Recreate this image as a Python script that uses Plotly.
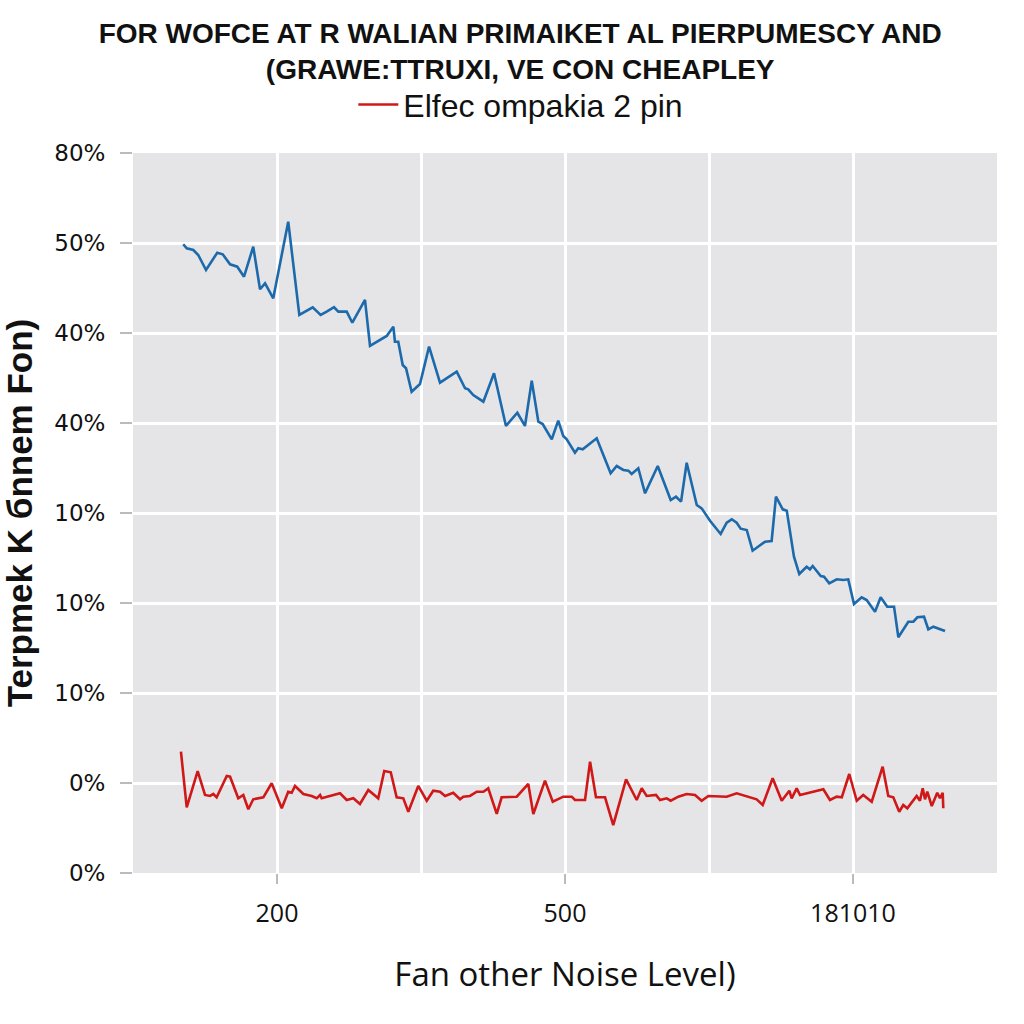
import plotly.graph_objects as go

# ---- data ----
blue_x = [0.349, 0.373, 0.419, 0.453, 0.507, 0.585, 0.623, 0.674, 0.724, 0.771,
          0.835, 0.882, 0.917, 0.974, 1.078, 1.155, 1.248, 1.303, 1.345, 1.396,
          1.426, 1.484, 1.523, 1.611, 1.646, 1.762, 1.808, 1.819, 1.842, 1.873,
          1.896, 1.935, 1.993, 2.056, 2.132, 2.248, 2.306, 2.328, 2.363, 2.433,
          2.507, 2.590, 2.669, 2.722, 2.769, 2.815, 2.845, 2.908, 2.953, 2.988,
          3.012, 3.069, 3.092, 3.123, 3.220, 3.317, 3.359, 3.405, 3.440, 3.463,
          3.509, 3.556, 3.644, 3.734, 3.771, 3.806, 3.845, 3.915, 3.949, 4.007,
          4.081, 4.123, 4.158, 4.192, 4.220, 4.262, 4.303, 4.389, 4.435, 4.465,
          4.512, 4.540, 4.590, 4.627, 4.678, 4.701, 4.720, 4.776, 4.799, 4.835,
          4.887, 4.933, 4.967, 5.007, 5.060, 5.095, 5.153, 5.192, 5.238, 5.285,
          5.315, 5.384, 5.419, 5.447, 5.493, 5.523, 5.558, 5.639]
blue_y = [6.986, 6.941, 6.922, 6.867, 6.700, 6.892, 6.874, 6.763, 6.737, 6.626,
          6.959, 6.486, 6.552, 6.386, 7.237, 6.200, 6.286, 6.200, 6.237, 6.286,
          6.237, 6.237, 6.114, 6.367, 5.856, 5.967, 6.070, 5.903, 5.903, 5.644,
          5.608, 5.348, 5.433, 5.848, 5.448, 5.570, 5.386, 5.374, 5.311, 5.237,
          5.552, 4.967, 5.114, 4.967, 5.470, 5.014, 4.989, 4.819, 5.026, 4.856,
          4.819, 4.670, 4.719, 4.708, 4.830, 4.441, 4.522, 4.478, 4.470, 4.433,
          4.497, 4.219, 4.522, 4.144, 4.181, 4.126, 4.559, 4.089, 4.052, 3.914,
          3.767, 3.892, 3.930, 3.892, 3.826, 3.811, 3.581, 3.681, 3.689, 4.181,
          4.041, 4.026, 3.514, 3.322, 3.403, 3.374, 3.411, 3.300, 3.292, 3.219,
          3.263, 3.256, 3.263, 2.989, 3.063, 3.033, 2.903, 3.063, 2.959, 2.959,
          2.619, 2.792, 2.792, 2.841, 2.848, 2.708, 2.737, 2.689]

red_x = [0.333, 0.373, 0.449, 0.500, 0.535, 0.558, 0.581, 0.651, 0.674, 0.731,
         0.766, 0.801, 0.835, 0.905, 0.963, 1.033, 1.078, 1.102, 1.125, 1.183,
         1.241, 1.276, 1.299, 1.310, 1.438, 1.484, 1.530, 1.576, 1.634, 1.703,
         1.745, 1.790, 1.831, 1.877, 1.912, 1.981, 2.040, 2.085, 2.132, 2.167,
         2.224, 2.271, 2.294, 2.340, 2.387, 2.433, 2.467, 2.526, 2.560, 2.665,
         2.745, 2.780, 2.861, 2.915, 2.988, 3.047, 3.069, 3.139, 3.174, 3.215,
         3.278, 3.335, 3.424, 3.498, 3.533, 3.567, 3.632, 3.660, 3.706, 3.734,
         3.787, 3.845, 3.903, 3.949, 3.995, 4.123, 4.192, 4.262, 4.331, 4.373,
         4.442, 4.505, 4.558, 4.574, 4.609, 4.632, 4.724, 4.794, 4.840, 4.887,
         4.922, 4.974, 5.026, 5.071, 5.130, 5.206, 5.245, 5.280, 5.321, 5.349,
         5.377, 5.442, 5.465, 5.484, 5.500, 5.516, 5.547, 5.585, 5.604, 5.623,
         5.627]
red_y = [1.348, 0.730, 1.133, 0.867, 0.856, 0.878, 0.841, 1.078, 1.070, 0.830,
         0.867, 0.708, 0.819, 0.841, 0.997, 0.719, 0.903, 0.892, 0.967, 0.878,
         0.856, 0.830, 0.867, 0.830, 0.886, 0.811, 0.830, 0.767, 0.922, 0.830,
         1.133, 1.119, 0.841, 0.830, 0.681, 0.967, 0.803, 0.914, 0.903, 0.856,
         0.892, 0.819, 0.848, 0.856, 0.903, 0.903, 0.941, 0.656, 0.841, 0.848,
         0.989, 0.656, 1.026, 0.792, 0.848, 0.848, 0.811, 0.811, 1.237, 0.841,
         0.841, 0.533, 1.041, 0.811, 0.941, 0.856, 0.867, 0.811, 0.830, 0.803,
         0.848, 0.878, 0.867, 0.803, 0.856, 0.848, 0.886, 0.848, 0.819, 0.756,
         1.052, 0.803, 0.914, 0.830, 0.941, 0.867, 0.903, 0.930, 0.811, 0.848,
         0.841, 1.100, 0.803, 0.867, 0.792, 1.181, 0.856, 0.841, 0.681, 0.756,
         0.719, 0.856, 0.803, 0.941, 0.819, 0.903, 0.744, 0.892, 0.830, 0.892,
         0.719]

y_tickvals = [0, 1, 2, 3, 4, 5, 6, 7, 8]
y_ticktext = ["0%", "0%", "10%", "10%", "10%", "40%", "40%", "50%", "80%"]
x_tickvals = [1, 3, 5]
x_ticktext = ["200", "500", "181010"]

title_text = ("FOR WOFCE AT R WALIAN PRIMAIKET AL PIERPUMESCY AND<br>"
              "(GRAWE:TTRUXI, VE CON CHEAPLEY")
legend_name = "Elfec ompakia 2 pin"
x_title = "Fan other Noise Level)"
y_title = "Terpmek K бnnem Fon)"

fig = go.Figure()
fig.add_trace(go.Scatter(x=blue_x, y=blue_y, mode="lines",
                         line=dict(color="#1c6aab", width=2.6),
                         showlegend=False, name="blue"))
fig.add_trace(go.Scatter(x=red_x, y=red_y, mode="lines",
                         line=dict(color="#d01818", width=2.6),
                         showlegend=True, name=legend_name))

fig.update_layout(
    width=1024, height=1024, autosize=False,
    margin=dict(l=133, r=27, t=153, b=151),
    paper_bgcolor="white",
    plot_bgcolor="#e5e5e8",
    title=dict(text=title_text, x=0.508, xanchor="center", xref="container",
               y=0.958, yanchor="top", yref="container",
               font=dict(family="Liberation Sans, Arial", size=28, color="#111111",
                         weight="bold")),
    legend=dict(orientation="h", x=0.255, xanchor="left", y=1.067, yanchor="middle",
                font=dict(family="Liberation Sans, Arial", size=32, color="#111111"),
                bgcolor="rgba(0,0,0,0)", itemwidth=40),
    xaxis=dict(range=[0, 6], tickvals=x_tickvals, ticktext=x_ticktext,
               showgrid=True, gridcolor="white", gridwidth=2.5,
               ticks="outside", ticklen=10, tickcolor="#bbbbbb", tickwidth=1.5,
               minor=dict(dtick=1, tick0=0, showgrid=True, gridcolor="white",
                          gridwidth=2.5, ticks=""),
               zeroline=False, showline=False,
               tickfont=dict(family="Open Sans", size=25, color="#111111"),
               ticklabelstandoff=8,
               title=dict(text=x_title, standoff=34,
                          font=dict(family="Open Sans", size=33, color="#111111"))),
    yaxis=dict(range=[0, 8], tickvals=y_tickvals, ticktext=y_ticktext,
               showgrid=True, gridcolor="white", gridwidth=2.5,
               ticks="outside", ticklen=12, tickcolor="#bbbbbb", tickwidth=1.5,
               zeroline=False, showline=False,
               tickfont=dict(family="DejaVu Sans", size=23, color="#111111"),
               ticklabelstandoff=10,
               title=dict(text=y_title, standoff=12,
                          font=dict(family="Liberation Sans, Arial", size=35,
                                    color="#111111", weight="bold"))),
)

fig.write_html("out.html")
